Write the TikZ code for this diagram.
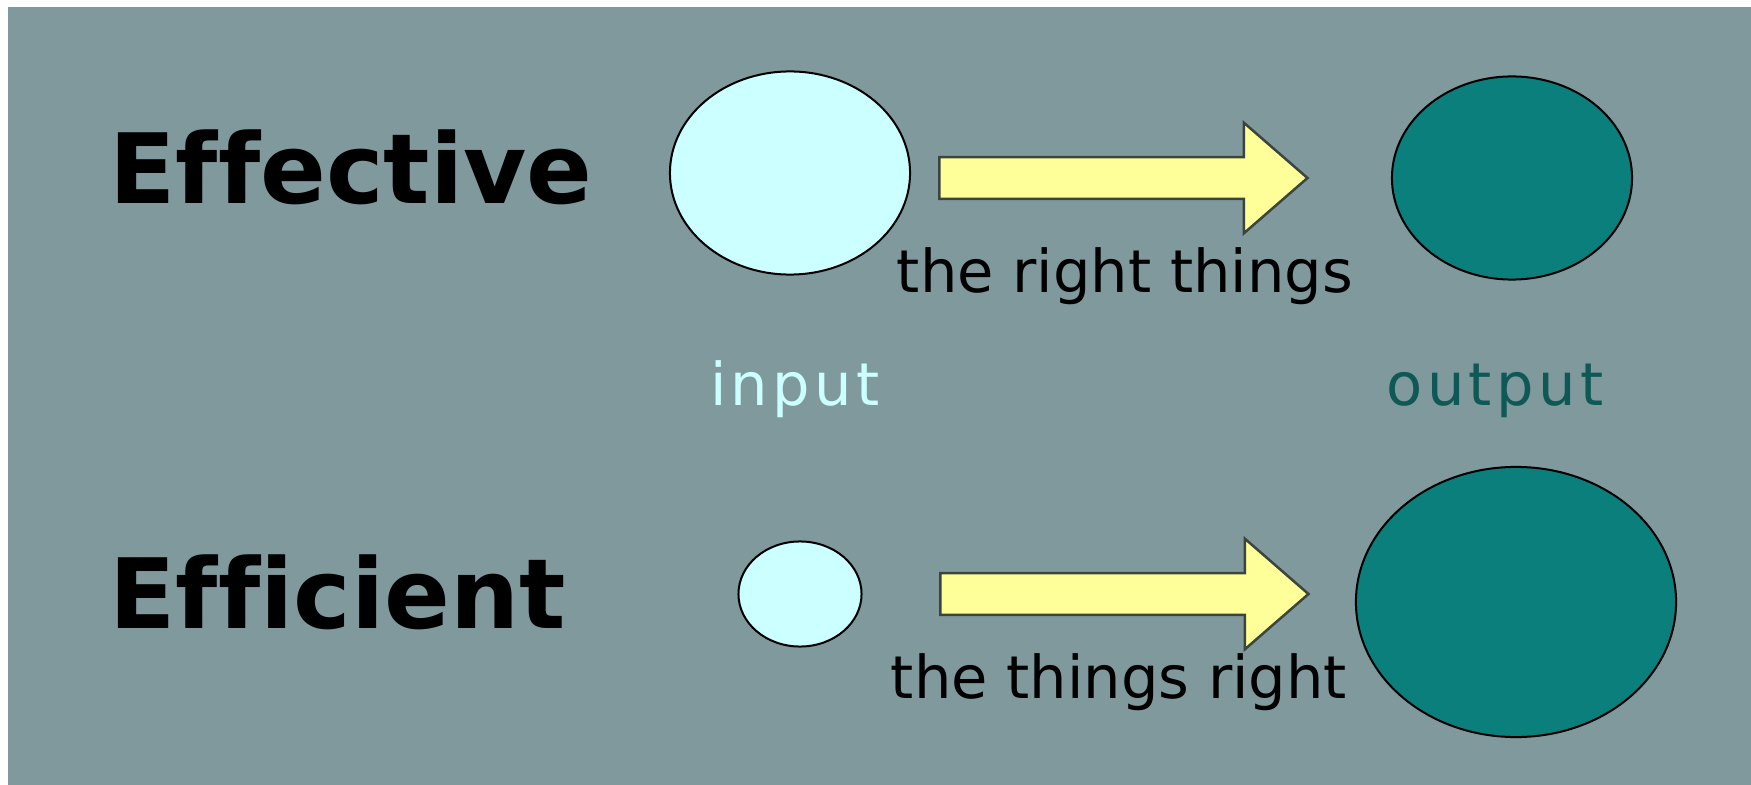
\documentclass[tikz,border=0pt]{standalone}
\usepackage{fontspec}
\setmainfont{DejaVu Sans}[Ligatures=NoCommon]
\newfontfamily\wideface{DejaVu Sans}[LetterSpace=7.5]
\usepackage{tikz}
\usetikzlibrary{positioning, shapes.geometric, shapes.arrows}
\definecolor{eebg}{RGB}{127,153,157}
\definecolor{eelight}{RGB}{204,255,255}
\definecolor{eeteal}{RGB}{11,127,124}
\definecolor{eedark}{RGB}{14,88,85}
\definecolor{eeyellow}{RGB}{255,255,153}
\definecolor{eeborder}{RGB}{60,68,62}

\begin{document}
\begin{tikzpicture}[
    x=0.01cm, y=-0.01cm,
    inputdot/.style={ellipse, draw=black, line width=0.02cm, fill=eelight, inner sep=0pt},
    outputdot/.style={ellipse, draw=black, line width=0.02cm, fill=eeteal, inner sep=0pt},
    fatarrow/.style={single arrow, draw=eeborder, fill=eeyellow, line width=0.025cm, minimum height=3.68cm, inner xsep=0pt, inner ysep=0.195cm, single arrow head extend=0.345cm, single arrow tip angle=82, single arrow head indent=0pt},
    title/.style={font=\fontsize{27.6pt}{30pt}\selectfont\bfseries, anchor=base west, inner sep=0pt},
    caption/.style={font=\fontsize{16.8pt}{19pt}\selectfont, anchor=base, inner sep=0pt},
    tag/.style={font=\wideface\fontsize{16.8pt}{19pt}\selectfont, anchor=base, inner sep=0pt}
]
\useasboundingbox (0,0) rectangle (1751,785);
\fill[white] (0,0) rectangle (1751,785);
\fill[eebg] (8,7) rectangle (1751,785);

\node[title] (effective) at (109,204) {Effective};
\node[title] (efficient) at (109,628) {Efficient};

\node[inputdot, minimum width=2.40cm, minimum height=2.03cm] (in1) at (790,173) {};
\node[outputdot, minimum width=2.40cm, minimum height=2.03cm] (out1) at (1512,178) {};
\node[inputdot, minimum width=1.23cm, minimum height=1.05cm] (in2) at (800,594) {};
\node[outputdot, minimum width=3.20cm, minimum height=2.70cm] (out2) at (1516,602) {};

\node[fatarrow, anchor=tail] (push1) at (938,178) {};
\node[fatarrow, anchor=tail] (push2) at (939,594) {};

\node[caption] (right1) at (1125,292) {the right things};
\node[caption] (right2) at (1119,698) {the things right};

\node[tag, text=eelight] (input) at (795,405) {input};
\node[tag, text=eedark] (output) at (1495,405) {output};
\end{tikzpicture}
\end{document}
